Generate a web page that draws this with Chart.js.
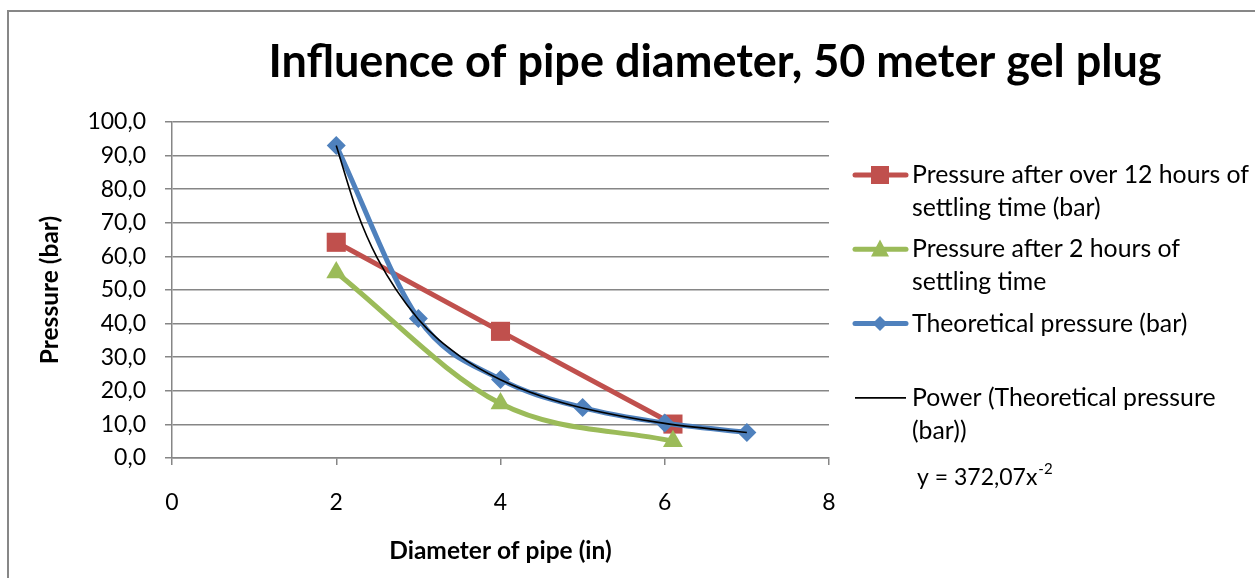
<!DOCTYPE html>
<html>
<head>
<meta charset="utf-8">
<script src="https://cdn.jsdelivr.net/npm/chart.js@4.4.1/dist/chart.umd.min.js"></script>
<style>
  body { margin: 0; background: #fff; }
  #wrap { position: relative; width: 1255px; height: 578px; overflow: hidden; }
  #frame {
    position: absolute; left: 7px; top: 10px; width: 1300px; height: 620px;
    border-top: 2px solid #878787; border-left: 2px solid #878787;
    pointer-events: none;
  }
</style>
</head>
<body>
<div id="wrap">
  <canvas id="myChart" width="1255" height="578"></canvas>
  <div id="frame"></div>
</div>
<script>
const chartTitle = "Influence of pipe diameter, 50 meter gel plug";
const xTitle = "Diameter of pipe (in)";
const yTitle = "Pressure (bar)";
const trendEquation = "y = 372,07x";
const trendExponent = "-2";

// values
const after12hX = [2, 4, 6.1];
const after12hY = [64.2, 37.7, 10.1];
const after2hX = [2, 4, 6.1];
const after2hY = [55.2, 16.2, 5.0];
const theoryX = [2, 3, 4, 5, 6, 7];
const theoryY = [93.0, 41.5, 23.4, 15.0, 10.4, 7.6];
const powerX = [2, 2.25, 2.5, 3, 3.5, 4, 4.5, 5, 6, 7];
const powerY = [93.0, 73.5, 59.5, 41.3, 30.4, 23.3, 18.4, 14.9, 10.3, 7.6];

const xTicks = [0, 2, 4, 6, 8];
const yTicks = [0, 10, 20, 30, 40, 50, 60, 70, 80, 90, 100];

const legendLines = [
  ["Pressure after over 12 hours of", "settling time (bar)"],
  ["Pressure after 2 hours of", "settling time"],
  ["Theoretical pressure (bar)"],
  ["Power (Theoretical pressure", "(bar))"],
];

const FONT = "Lato";

function points(xs, ys) {
  return xs.map((x, i) => ({ x: x, y: ys[i] }));
}

function drawMarker(ctx, style, x, y, size, color) {
  ctx.fillStyle = color;
  ctx.beginPath();
  if (style === "rect") {
    ctx.rect(x - size / 2, y - size / 2, size, size);
  } else if (style === "triangle") {
    ctx.moveTo(x, y - size * 0.55);
    ctx.lineTo(x + size / 2, y + size * 0.4);
    ctx.lineTo(x - size / 2, y + size * 0.4);
    ctx.closePath();
  } else if (style === "rectRot") {
    ctx.moveTo(x, y - size / 2);
    ctx.lineTo(x + size / 2, y);
    ctx.lineTo(x, y + size / 2);
    ctx.lineTo(x - size / 2, y);
    ctx.closePath();
  }
  ctx.fill();
}

const sideLegend = {
  id: "sideLegend",
  afterDraw(chart) {
    const ctx = chart.ctx;
    ctx.save();
    ctx.fillStyle = "#000";
    ctx.textBaseline = "middle";

    ctx.font = "bold 45px " + FONT;
    ctx.textAlign = "center";
    ctx.fillText(chartTitle, 715, 62);

    ctx.textAlign = "left";
    chart.data.datasets.forEach((ds, i) => {
      const y0 = 175 + i * 74.3;
      ctx.strokeStyle = ds.borderColor;
      ctx.lineWidth = ds.legendLine;
      ctx.lineCap = ds.legendLine > 2 ? "round" : "butt";
      ctx.beginPath();
      ctx.moveTo(855, y0);
      ctx.lineTo(906, y0);
      ctx.stroke();
      if (ds.pointStyle) {
        drawMarker(ctx, ds.pointStyle, 880, y0, ds.legendMarker, ds.backgroundColor);
      }
      ctx.fillStyle = "#000";
      ctx.font = "24.8px " + FONT;
      legendLines[i].forEach((line, j) => {
        ctx.fillText(line, 912, y0 + j * 33);
      });
    });

    ctx.font = "23px " + FONT;
    ctx.fillText(trendEquation, 917, 478);
    const w = ctx.measureText(trendEquation).width;
    ctx.font = "15px " + FONT;
    ctx.fillText(trendExponent, 918 + w, 469);
    ctx.restore();
  }
};

const gridColor = "#868686";

const ctx = document.getElementById("myChart").getContext("2d");
const myChart = new Chart(ctx, {
  type: "scatter",
  data: {
    datasets: [
      {
        label: legendLines[0].join(" "),
        data: points(after12hX, after12hY),
        showLine: true,
        borderColor: "#C0504D",
        backgroundColor: "#C0504D",
        borderWidth: 5,
        pointStyle: "rect",
        pointRadius: 13.5,
        pointBorderWidth: 0,
        tension: 0,
        order: 3,
        legendLine: 5,
        legendMarker: 18,
      },
      {
        label: legendLines[1].join(" "),
        data: points(after2hX, after2hY),
        showLine: true,
        borderColor: "#9BBB59",
        backgroundColor: "#9BBB59",
        borderWidth: 5,
        pointStyle: "triangle",
        pointRadius: 11.5,
        pointBorderWidth: 0,
        cubicInterpolationMode: "monotone",
        order: 2,
        legendLine: 5,
        legendMarker: 18,
      },
      {
        label: legendLines[2].join(" "),
        data: points(theoryX, theoryY),
        showLine: true,
        borderColor: "#4F81BD",
        backgroundColor: "#4F81BD",
        borderWidth: 5,
        pointStyle: "rectRot",
        pointRadius: 9.5,
        pointBorderWidth: 0,
        cubicInterpolationMode: "monotone",
        order: 1,
        legendLine: 5,
        legendMarker: 15,
      },
      {
        label: legendLines[3].join(" "),
        data: points(powerX, powerY),
        showLine: true,
        borderColor: "#000000",
        backgroundColor: "#000000",
        borderWidth: 1.6,
        pointRadius: 0,
        pointStyle: false,
        cubicInterpolationMode: "monotone",
        order: 0,
        legendLine: 1.6,
        legendMarker: 0,
      },
    ],
  },
  options: {
    responsive: false,
    animation: false,
    devicePixelRatio: 1,
    layout: { padding: { left: 0, right: 426, top: 122, bottom: 0 } },
    plugins: {
      legend: { display: false },
      title: { display: false },
      tooltip: { enabled: false },
    },
    scales: {
      x: {
        type: "linear",
        min: xTicks[0],
        max: xTicks[xTicks.length - 1],
        afterFit: (scale) => { scale.height = 120; },
        afterBuildTicks: (scale) => { scale.ticks = xTicks.map((v) => ({ value: v })); },
        grid: { drawOnChartArea: false, drawTicks: true, tickLength: 7, color: gridColor, lineWidth: 1.5 },
        border: { color: gridColor, width: 1.5 },
        ticks: { color: "#000", padding: 24, font: { family: FONT, size: 23 } },
        title: {
          display: true,
          text: xTitle,
          color: "#000",
          font: { family: FONT, size: 24.5, weight: "bold" },
          padding: { top: 0, bottom: 12 },
        },
      },
      y: {
        min: yTicks[0],
        max: yTicks[yTicks.length - 1],
        afterFit: (scale) => { scale.width = 172; },
        afterBuildTicks: (scale) => { scale.ticks = yTicks.map((v) => ({ value: v })); },
        grid: { drawTicks: true, tickLength: 7, color: gridColor, lineWidth: 1.5 },
        border: { color: gridColor, width: 1.5 },
        ticks: {
          color: "#000",
          padding: 19,
          font: { family: FONT, size: 23 },
          callback: (v) => v.toFixed(1).replace(".", ","),
        },
        title: {
          display: true,
          text: yTitle,
          color: "#000",
          font: { family: FONT, size: 24.5, weight: "bold" },
          padding: { top: 35, bottom: 0 },
        },
      },
    },
  },
  plugins: [sideLegend],
});
</script>
</body>
</html>
